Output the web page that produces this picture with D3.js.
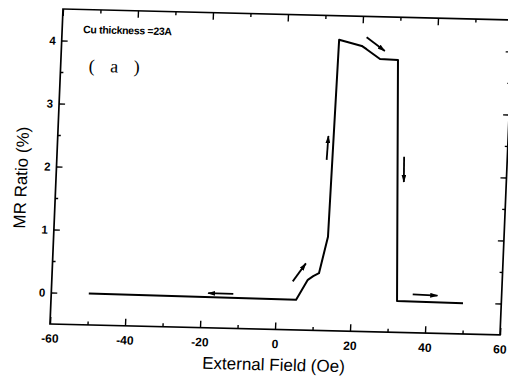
<!DOCTYPE html>
<html>
<head>
<meta charset="utf-8">
<script src="https://cdn.jsdelivr.net/npm/d3@7"></script>
<style>
    body { margin: 0; background: #fff; }
    svg { display: block; }
    .tick text { font-family: "Liberation Sans", Arial, sans-serif; font-weight: bold; fill: #000; }
    .tick line { stroke: #000; stroke-width: 1.4; }
</style>
</head>
<body>
<script>
// sweep of the MR curve (field in Oe, MR in %)
var fieldH = [-50, 5.3, 8.2, 9.6, 11.1, 13.1, 13.9, 20.0, 21.3, 25.0, 29.8, 32.2, 49.8];
var mrRatio = [0.0, -0.02, 0.30, 0.36, 0.41, 0.99, 4.12, 4.03, 3.98, 3.83, 3.82, 0.0, -0.01];

// little arrows that show the sweep direction
var arrowX0 = [-11.5, 4.2, 11.9, 21.2, 32.5, 36.3];
var arrowY0 = [0.05, 0.27, 2.21, 4.17, 2.29, 0.11];
var arrowX1 = [-18.2, 7.5, 12.1, 26.2, 32.7, 42.9];
var arrowY1 = [0.05, 0.56, 2.59, 3.96, 1.89, 0.10];

var xMajor = [-60, -40, -20, 0, 20, 40, 60];
var xMinor = [-50, -30, -10, 10, 30, 50];
var yMajor = [0, 1, 2, 3, 4];
var yMinor = [0.5, 1.5, 2.5, 3.5];

var width = 508,
    height = 379;

// plot box (the scan is a bit skewed, so the whole box is sheared)
var plotW = 450,
    plotH = 315;

var svg = d3.select("body").append("svg")
    .attr("width", width)
    .attr("height", height);

svg.append("rect")
    .attr("width", width)
    .attr("height", height)
    .attr("fill", "#fff");

var g = svg.append("g")
    .attr("transform", "matrix(1,0.0244,-0.0413,1,63,9)");

var x = d3.scaleLinear().domain([-60, 60]).range([0, plotW]);
var y = d3.scaleLinear().domain([-0.5, 4.5]).range([plotH, 0]);

function plain(d) {
    return String(d);
}

function noLabel() {
    return "";
}

function drawAxis(axis, tx, ty, fontSize) {
    var a = g.append("g")
        .attr("transform", "translate(" + tx + "," + ty + ")")
        .call(axis);
    a.select(".domain").remove();
    a.selectAll("text").style("font-size", fontSize + "px");
    return a;
}

// bottom
drawAxis(d3.axisBottom(x).tickValues(xMajor).tickSize(-7).tickPadding(10).tickFormat(plain), 0, plotH, 12);
drawAxis(d3.axisBottom(x).tickValues(xMinor).tickSize(-3.5).tickFormat(noLabel), 0, plotH, 12);
// top
drawAxis(d3.axisTop(x).tickValues(xMajor).tickSize(-7).tickFormat(noLabel), 0, 0, 12);
drawAxis(d3.axisTop(x).tickValues(xMinor).tickSize(-3.5).tickFormat(noLabel), 0, 0, 12);
// left
drawAxis(d3.axisLeft(y).tickValues(yMajor).tickSize(-6).tickPadding(6).tickFormat(plain), 0, 0, 11.5);
drawAxis(d3.axisLeft(y).tickValues(yMinor).tickSize(-3).tickFormat(noLabel), 0, 0, 11);
// right
drawAxis(d3.axisRight(y).tickValues(yMajor).tickSize(-6).tickFormat(noLabel), plotW, 0, 11);
drawAxis(d3.axisRight(y).tickValues(yMinor).tickSize(-3).tickFormat(noLabel), plotW, 0, 11);

g.append("rect")
    .attr("width", plotW)
    .attr("height", plotH)
    .attr("fill", "none")
    .attr("stroke", "#000")
    .attr("stroke-width", 1.7);

var line = d3.line()
    .x(function(d) {
        return x(d[0]);
    })
    .y(function(d) {
        return y(d[1]);
    });

g.append("path")
    .datum(d3.zip(fieldH, mrRatio))
    .attr("d", line)
    .attr("fill", "none")
    .attr("stroke", "#000")
    .attr("stroke-width", 2)
    .attr("stroke-linejoin", "round");

svg.append("defs").append("marker")
    .attr("id", "head")
    .attr("viewBox", "0 0 10 6")
    .attr("refX", 9)
    .attr("refY", 3)
    .attr("markerUnits", "userSpaceOnUse")
    .attr("markerWidth", 8)
    .attr("markerHeight", 5)
    .attr("orient", "auto")
    .append("path")
    .attr("d", "M0,0L10,3L0,6Z")
    .attr("fill", "#000");

g.append("g").selectAll("line")
    .data(d3.range(arrowX0.length))
    .enter().append("line")
    .attr("x1", function(i) {
        return x(arrowX0[i]);
    })
    .attr("y1", function(i) {
        return y(arrowY0[i]);
    })
    .attr("x2", function(i) {
        return x(arrowX1[i]);
    })
    .attr("y2", function(i) {
        return y(arrowY1[i]);
    })
    .attr("stroke", "#000")
    .attr("stroke-width", 1.8)
    .attr("marker-end", "url(#head)");

g.append("text")
    .attr("x", 21)
    .attr("y", 23.5)
    .style("font-family", "'Liberation Sans', Arial, sans-serif")
    .style("font-weight", "bold")
    .style("font-size", "10.5px")
    .style("letter-spacing", "-0.3px")
    .text("Cu thickness =23A");

g.append("text")
    .attr("x", 28)
    .attr("y", 62)
    .attr("xml:space", "preserve")
    .style("font-family", "'Liberation Serif', 'DejaVu Serif', serif")
    .style("font-size", "18px")
    .style("letter-spacing", "5.5px")
    .text("( a )");

g.append("text")
    .attr("x", plotW / 2)
    .attr("y", plotH + 41)
    .attr("text-anchor", "middle")
    .style("font-family", "'Liberation Sans', Arial, sans-serif")
    .style("font-size", "17px")
    .text("External Field (Oe)");

g.append("text")
    .attr("transform", "translate(-29," + (plotH / 2 + 12) + ") rotate(-90)")
    .attr("text-anchor", "middle")
    .style("font-family", "'Liberation Sans', Arial, sans-serif")
    .style("font-size", "17px")
    .text("MR Ratio (%)");
</script>
</body>
</html>
